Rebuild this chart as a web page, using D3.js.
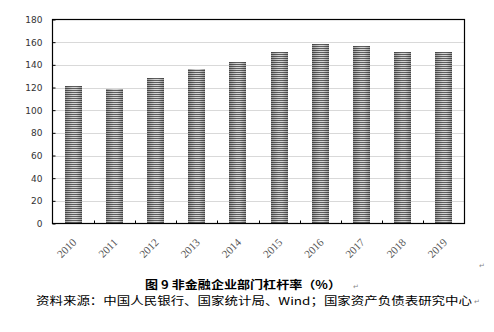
<!DOCTYPE html>
<html><head><meta charset="utf-8">
<script src="https://cdn.jsdelivr.net/npm/d3@7"></script>
<style>body{margin:0;background:#fff}svg{display:block}</style>
</head><body>
<svg id="c" width="494" height="332"></svg>
<script>
const years = ["2010","2011","2012","2013","2014","2015","2016","2017","2018","2019"];
const leverage = [121.1, 118.8, 128.2, 136.2, 142.3, 151.1, 158.2, 156.5, 151.1, 151.1];
const yTicks = [0,20,40,60,80,100,120,140,160,180];
const captionText = "图 9 非金融企业部门杠杆率（%）";
const sourceText = "资料来源：中国人民银行、国家统计局、Wind；国家资产负债表研究中心";

const svg = d3.select("#c");
const L = 52.5, R = 464.5, T = 19.5, B = 223.5;
const x = d3.scaleBand().domain(years).range([L, R]).paddingInner(0.59).paddingOuter(0.295);
const xb = d3.scaleBand().domain(years).range([L, R]);
const y = d3.scaleLinear().domain([0,180]).range([B, T]);

const defs = svg.append("defs");
const pat = defs.append("pattern").attr("id","stripe").attr("patternUnits","userSpaceOnUse")
  .attr("width",4).attr("height",2);
pat.append("rect").attr("width",4).attr("height",2).attr("fill","#d4d4d4");
pat.append("rect").attr("width",4).attr("height",1).attr("fill","#5e5e5e");
const g = defs.append("linearGradient").attr("id","shade");
g.append("stop").attr("offset","0%").attr("stop-color","#000").attr("stop-opacity",0.28);
g.append("stop").attr("offset","45%").attr("stop-color","#000").attr("stop-opacity",0);
g.append("stop").attr("offset","65%").attr("stop-color","#000").attr("stop-opacity",0);
g.append("stop").attr("offset","100%").attr("stop-color","#000").attr("stop-opacity",0.28);

// gridlines
svg.append("g").selectAll("line").data(yTicks.filter(d=>d>0 && d<180)).join("line")
  .attr("x1",L).attr("x2",R).attr("y1",d=>Math.round(y(d))+0.5).attr("y2",d=>Math.round(y(d))+0.5)
  .attr("stroke","#d9d9d9").attr("stroke-width",1);

// bars
const bars = svg.append("g");
bars.selectAll("rect.b").data(years).join("rect").attr("class","b")
  .attr("x",d=>Math.round(x(d))).attr("width",17)
  .attr("y",(d,i)=>Math.round(y(leverage[i]))).attr("height",(d,i)=>B-Math.round(y(leverage[i])))
  .attr("fill","url(#stripe)");
bars.selectAll("rect.s").data(years).join("rect").attr("class","s")
  .attr("x",d=>Math.round(x(d))).attr("width",17)
  .attr("y",(d,i)=>Math.round(y(leverage[i]))).attr("height",(d,i)=>B-Math.round(y(leverage[i])))
  .attr("fill","url(#shade)");

// frame
svg.append("rect").attr("x",L).attr("y",T).attr("width",R-L).attr("height",B-T)
  .attr("fill","none").attr("stroke","#000").attr("stroke-width",1.2);

// y axis
const ya = svg.append("g").attr("transform",`translate(${L},0)`)
  .call(d3.axisLeft(y).tickValues(yTicks).tickSize(-3).tickPadding(10));
ya.select(".domain").remove();
ya.selectAll("line").attr("stroke","#000");
ya.selectAll("text").attr("font-family","DejaVu Sans, Verdana, sans-serif").attr("font-size",9).attr("fill","#333");

// x axis ticks at boundaries
svg.append("g").selectAll("line").data(years.slice(1)).join("line")
  .attr("x1",d=>Math.round(xb(d))+0.5).attr("x2",d=>Math.round(xb(d))+0.5)
  .attr("y1",B).attr("y2",B-3).attr("stroke","#000");

// x labels
svg.append("g").selectAll("text").data(years).join("text")
  .attr("transform",d=>`translate(${xb(d)+xb.bandwidth()/2+4},${243}) rotate(-45)`)
  .attr("text-anchor","end").attr("font-family","Liberation Serif, Times New Roman, serif")
  .attr("font-size",11).attr("fill","#555").text(d=>d);

// caption
svg.append("text").attr("x",145).attr("y",289).attr("font-family","Noto Sans CJK SC")
  .attr("font-weight","bold").attr("font-size",11).attr("fill","#000")
  .attr("textLength",196).attr("lengthAdjust","spacingAndGlyphs").text(captionText);
svg.append("text").attr("x",36).attr("y",305).attr("font-family","Noto Sans CJK SC")
  .attr("font-size",11).attr("fill","#000")
  .attr("textLength",436).attr("lengthAdjust","spacingAndGlyphs").text(sourceText);

// paragraph marks
const marks = [[479,268],[353,289],[474,304]];
svg.append("g").selectAll("text").data(marks).join("text")
  .attr("x",d=>d[0]).attr("y",d=>d[1]).attr("font-family","DejaVu Sans").attr("font-size",7)
  .attr("fill","#888").text("↵");
</script>
</body></html>
